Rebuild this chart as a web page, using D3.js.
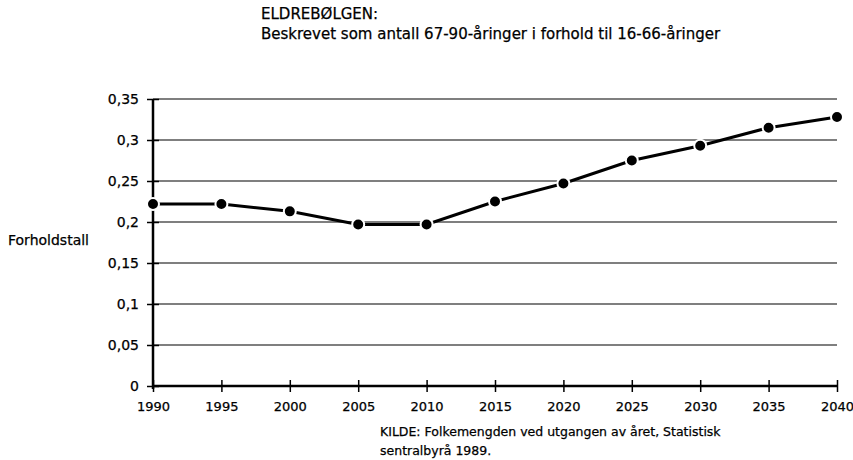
<!DOCTYPE html>
<html><head><meta charset="utf-8">
<script src="https://cdn.jsdelivr.net/npm/d3@7"></script>
<style>body{margin:0;background:#fff}svg{display:block}text{font-family:"DejaVu Sans",sans-serif;fill:#000;stroke:#000;stroke-width:0.25px}</style>
</head><body>
<svg id="c" width="853" height="460"></svg>
<script>
const years = [1990,1995,2000,2005,2010,2015,2020,2025,2030,2035,2040];
const ratio = [0.222,0.222,0.213,0.197,0.197,0.225,0.247,0.275,0.293,0.315,0.328];
const yTicks = [0,0.05,0.1,0.15,0.2,0.25,0.3,0.35];
const yTickLabels = ["0","0,05","0,1","0,15","0,2","0,25","0,3","0,35"];
const titleLines = ["ELDREBØLGEN:","Beskrevet som antall 67-90-åringer i forhold til 16-66-åringer"];
const sourceLines = ["KILDE: Folkemengden ved utgangen av året, Statistisk","sentralbyrå 1989."];
const yLabel = "Forholdstall";

const FONT = "DejaVu Sans, sans-serif";
const svg = d3.select("#c");
const x = d3.scaleLinear().domain([1990,2040]).range([153,837]);
const y = d3.scaleLinear().domain([0,0.35]).range([386,99]);

// gridlines
svg.append("g").selectAll("line").data(yTicks.filter(d=>d>0)).join("line")
  .attr("x1",x(1990)).attr("x2",x(2040)).attr("y1",d=>y(d)).attr("y2",d=>y(d))
  .attr("stroke","#000").attr("stroke-width",1.2);

// y axis
const yAxis = d3.axisLeft(y).tickValues(yTicks).tickSize(6).tickPadding(8)
  .tickFormat((d,i)=>yTickLabels[i]);
const gy = svg.append("g").attr("transform",`translate(${x(1990)},0)`).call(yAxis);
gy.select(".domain").attr("stroke","#000").attr("stroke-width",2.5).attr("d",`M0,${y(0)+3}V${y(0.35)}`);
gy.selectAll(".tick line").attr("stroke","#000").attr("stroke-width",1.5).attr("x1",6);
gy.selectAll(".tick text").attr("font-size",14).attr("font-family",FONT).attr("fill","#000");

// x axis
const xAxis = d3.axisBottom(x).tickValues(years).tickSize(6).tickPadding(10).tickFormat(d3.format("d"));
const gx = svg.append("g").attr("transform",`translate(0,${y(0)})`).call(xAxis);
gx.select(".domain").attr("stroke","#000").attr("stroke-width",2.5).attr("d",`M${x(1990)},0H${x(2040)}`);
gx.selectAll(".tick line").attr("stroke","#000").attr("stroke-width",1.5).attr("y1",-6);
gx.selectAll(".tick text").attr("font-size",13).attr("font-family",FONT).attr("fill","#000");

// data line
const pts = years.map((d,i)=>[d,ratio[i]]);
svg.append("path").datum(pts)
  .attr("d",d3.line().x(d=>x(d[0])).y(d=>y(d[1])))
  .attr("fill","none").attr("stroke","#000").attr("stroke-width",3);
svg.append("g").selectAll("circle").data(pts).join("circle")
  .attr("cx",d=>x(d[0])).attr("cy",d=>y(d[1])).attr("r",6)
  .attr("fill","#000").attr("stroke","#fff").attr("stroke-width",2);

// texts
svg.append("g").selectAll("text").data(titleLines).join("text")
  .attr("x",261).attr("y",(d,i)=>19+i*20).attr("font-size",15).text(d=>d);
svg.append("text").attr("x",8).attr("y",245).attr("font-size",14).text(yLabel);
svg.append("g").selectAll("text").data(sourceLines).join("text")
  .attr("x",380).attr("y",(d,i)=>436+i*19).attr("font-size",12.5).text(d=>d);
</script>
</body></html>
